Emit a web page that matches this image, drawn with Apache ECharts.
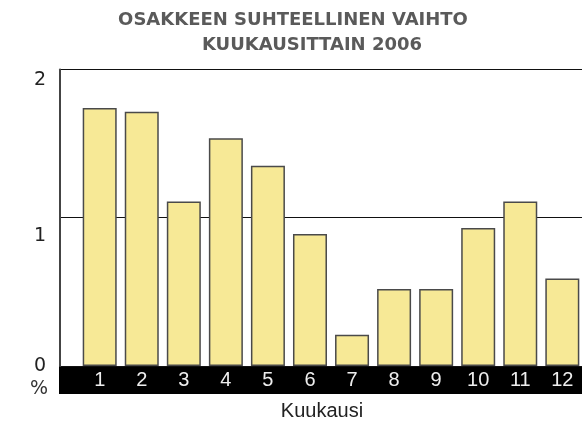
<!DOCTYPE html>
<html>
<head>
<meta charset="utf-8">
<script src="https://cdn.jsdelivr.net/npm/echarts@6/dist/echarts.min.js"></script>
<style>
    html, body { margin: 0; padding: 0; background: #fff; }
    #chart { width: 582px; height: 426px; }
</style>
</head>
<body>
<div id="chart"></div>
<script>
    // kuukaudet ja vaihto-% (luettu kuvasta)
    var months = [1, 2, 3, 4, 5, 6, 7, 8, 9, 10, 11, 12];
    var turnover = [1.74, 1.715, 1.11, 1.535, 1.35, 0.89, 0.21, 0.52, 0.52, 0.93, 1.11, 0.59];
    var yTicks = [0, 1, 2];
    var titleLines = ["OSAKKEEN SUHTEELLINEN VAIHTO", "KUUKAUSITTAIN 2006"];

    var chart = echarts.init(document.getElementById("chart"));

    var data = [];
    for (var i = 0; i < months.length; i++) {
        data.push([months[i], turnover[i]]);
    }

    var titleStyle = {
        fontFamily: "DejaVu Sans",
        fontWeight: "bold",
        fontSize: 18,
        color: "#5a5a5a"
    };

    var option = {
        animation: false,
        title: [
            { text: titleLines[0], left: 293, top: 11, textAlign: "center", padding: 0, textStyle: titleStyle },
            { text: titleLines[1], left: 312, top: 36, textAlign: "center", padding: 0, textStyle: titleStyle }
        ],
        grid: [
            { left: 60, right: 0, top: 69.4, bottom: 60, outerBoundsMode: "none", containLabel: false },
            // musta kaista x-akselin alla
            { left: 59, right: 0, top: 366, height: 28, show: true, backgroundColor: "#000", borderWidth: 0, z: -1,
              outerBoundsMode: "none", containLabel: false }
        ],
        xAxis: [{
            type: "value",
            gridIndex: 0,
            min: 0.056,
            max: 12.468,
            splitNumber: 12,
            z: 10,
            name: "Kuukausi",
            nameLocation: "middle",
            nameGap: 35,
            nameTextStyle: { fontFamily: "Liberation Sans", fontSize: 20, color: "#222", padding: [0, 0, 0, 2] },
            axisLine: { show: false },
            axisTick: { show: false },
            splitLine: { show: false },
            axisLabel: {
                margin: 14,
                verticalAlign: "middle",
                fontFamily: "Liberation Sans",
                fontSize: 20,
                color: "#eee",
                showMinLabel: false,
                showMaxLabel: false,
                formatter: function (v) {
                    return months.indexOf(v) >= 0 ? String(v) : "";
                }
            }
        }, {
            type: "value",
            gridIndex: 1,
            show: false
        }],
        yAxis: [{
            type: "value",
            gridIndex: 0,
            min: 0,
            max: 2,
            interval: 1,
            name: "%",
            nameLocation: "start",
            nameGap: 14,
            nameTextStyle: { fontFamily: "DejaVu Sans", fontSize: 19, color: "#333", align: "right", padding: [0, 12, 0, 0] },
            axisLine: { show: true, lineStyle: { color: "#444", width: 2 } },
            axisTick: { show: false },
            splitLine: { show: true, lineStyle: { color: "#111", width: 1 } },
            axisLabel: {
                margin: 14,
                fontFamily: "DejaVu Sans",
                fontSize: 19,
                color: "#222",
                formatter: function (v) {
                    if (v === 2) return "{l2|\n2}";
                    if (v === 1) return "{l1|\n1}";
                    return "{l0|" + v + "}";
                },
                rich: {
                    l2: { fontFamily: "DejaVu Sans", fontSize: 19, color: "#222", lineHeight: 22 },
                    l1: { fontFamily: "DejaVu Sans", fontSize: 19, color: "#222", lineHeight: 36 },
                    l0: { fontFamily: "DejaVu Sans", fontSize: 19, color: "#222", lineHeight: 19 }
                }
            }
        }, {
            type: "value",
            gridIndex: 1,
            show: false
        }],
        series: [{
            type: "bar",
            data: data,
            barWidth: 34,
            itemStyle: {
                color: "#f7e996",
                borderColor: "#4a4a4a",
                borderWidth: 1.5
            }
        }]
    };

    chart.setOption(option);
</script>
</body>
</html>
